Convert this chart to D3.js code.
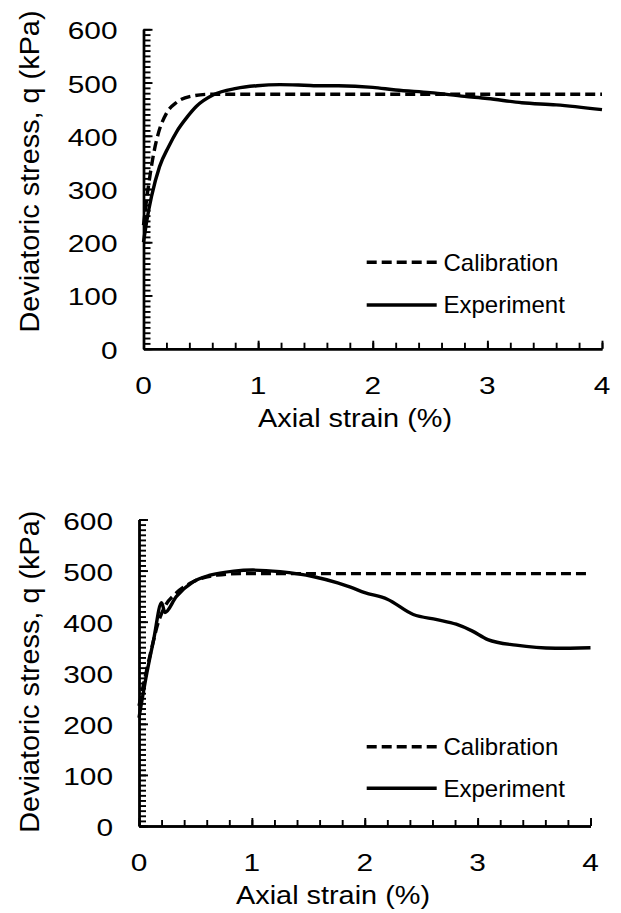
<!DOCTYPE html>
<html>
<head>
<meta charset="utf-8">
<script src="https://cdn.jsdelivr.net/npm/d3@7/dist/d3.min.js"></script>
<style>
  body { margin: 0; background: #fff; }
  text { font-family: "Liberation Sans", Arial, sans-serif; fill: #000; }
</style>
</head>
<body>
<script>
'use-strict';

// top panel, calibration curve
let topCalStrain = [0, 0.03, 0.06, 0.09, 0.13, 0.2, 0.29, 0.41, 0.58, 0.8, 1.5, 2.5, 3.5, 4];
let topCalStress = [232, 285, 330, 368, 405, 442, 463, 474, 478, 478, 478, 478, 478, 478];

// top panel, experiment curve
let topExpStrain = [0, 0.03, 0.07, 0.14, 0.22, 0.29, 0.38, 0.46, 0.61, 0.81, 0.99, 1.19, 1.4, 1.55, 1.7, 2.0, 2.2, 2.5, 2.8, 3.0, 3.3, 3.6, 4.0];
let topExpStress = [200, 242, 286, 342, 380, 408, 435, 455, 477, 489, 494, 496, 495, 494, 494, 491, 486, 481, 474, 470, 462, 458, 449];

// bottom panel, calibration curve
let botCalStrain = [0, 0.05, 0.11, 0.17, 0.23, 0.33, 0.48, 0.69, 0.9, 1.5, 2.5, 3.5, 4];
let botCalStress = [235, 287, 346, 398, 430, 456, 478, 491, 494, 494, 494, 494, 494];

// bottom panel, experiment curve
let botExpStrain = [0, 0.07, 0.13, 0.2, 0.23, 0.33, 0.48, 0.63, 0.84, 1.01, 1.25, 1.55, 1.76, 1.88, 2.0, 2.2, 2.43, 2.64, 2.81, 2.95, 3.09, 3.34, 3.69, 4.0];
let botExpStress = [212, 300, 365, 437, 418, 449, 478, 491, 499, 501, 498, 488, 476, 467, 457, 444, 414, 404, 395, 382, 365, 354, 348, 349];

// tick values and labels
let xMajorTicks = [0, 1, 2, 3, 4];
let xMinorTicks = d3.range(0, 4.001, 0.2);
let yMajorTicks = [0, 100, 200, 300, 400, 500, 600];
let yMinorTicks = d3.range(0, 601, 10);

let seriesNames = ["Calibration", "Experiment"];
let xTitle = "Axial strain (%)";
let yTitle = "Deviatoric stress, q (kPa)";

// page size
let width = 621, height = 913;

// plot boxes of the two panels
let panels = [
  { left: 143.5, right: 602, top: 29.3, bottom: 348.7, xTitleX: 355, yTitleY: 171.5, legendY: [262.3, 305],
    cal: [topCalStrain, topCalStress], exp: [topExpStrain, topExpStress] },
  { left: 139, right: 590.5, top: 519.5, bottom: 826, xTitleX: 333, yTitleY: 671.7, legendY: [746.7, 788.3],
    cal: [botCalStrain, botCalStress], exp: [botExpStrain, botExpStress] }
];

let svgContainer = d3.select("body")
  .append("svg")
  .attr("width", width)
  .attr("height", height);

panels.forEach(p => drawPanel(p));

// zip two arrays into points
function toPoints(xs, ys) {
  return xs.map((v, i) => ({ x: v, y: ys[i] }));
}

function drawPanel(p) {
  let xScale = d3.scaleLinear().domain([0, 4]).range([p.left, p.right]);
  let yScale = d3.scaleLinear().domain([0, 600]).range([p.bottom, p.top]);

  // y minor ticks (pointing inside)
  svgContainer.append("g")
    .attr("transform", "translate(" + p.left + ",0)")
    .call(d3.axisRight(yScale).tickValues(yMinorTicks).tickSize(7).tickSizeOuter(0).tickFormat(""));

  // y major ticks
  svgContainer.append("g")
    .attr("transform", "translate(" + p.left + ",0)")
    .call(d3.axisRight(yScale).tickValues(yMajorTicks).tickSize(9).tickSizeOuter(0).tickFormat(""));

  // x minor ticks (pointing up)
  svgContainer.append("g")
    .attr("transform", "translate(0," + p.bottom + ")")
    .call(d3.axisTop(xScale).tickValues(xMinorTicks).tickSize(6).tickSizeOuter(0).tickFormat(""));

  // x major ticks
  svgContainer.append("g")
    .attr("transform", "translate(0," + p.bottom + ")")
    .call(d3.axisTop(xScale).tickValues(xMajorTicks).tickSize(8).tickSizeOuter(0).tickFormat(""));

  svgContainer.selectAll(".domain").attr("stroke", "#000").attr("stroke-width", 2.4);
  svgContainer.selectAll(".tick line").attr("stroke", "#000").attr("stroke-width", 1.9);

  // y tick labels
  yMajorTicks.forEach(v => {
    svgContainer.append("text")
      .attr("transform", "translate(" + (p.left - 26) + "," + (yScale(v) + 10) + ") scale(1.27,1)")
      .attr("text-anchor", "end")
      .style("font-size", "23.5px")
      .text(v);
  });

  // x tick labels
  xMajorTicks.forEach(v => {
    svgContainer.append("text")
      .attr("transform", "translate(" + xScale(v) + "," + (p.bottom + 45) + ") scale(1.27,1)")
      .attr("text-anchor", "middle")
      .style("font-size", "23.5px")
      .text(v);
  });

  // axis titles
  svgContainer.append("text")
    .attr("x", p.xTitleX)
    .attr("y", p.bottom + 78)
    .attr("text-anchor", "middle")
    .attr("textLength", 194)
    .attr("lengthAdjust", "spacingAndGlyphs")
    .style("font-size", "25px")
    .text(xTitle);

  svgContainer.append("text")
    .attr("transform", "translate(39," + p.yTitleY + ") rotate(-90)")
    .attr("text-anchor", "middle")
    .attr("textLength", 322)
    .attr("lengthAdjust", "spacingAndGlyphs")
    .style("font-size", "27px")
    .text(yTitle);

  let line = d3.line()
    .x(d => xScale(d.x))
    .y(d => yScale(d.y))
    .curve(d3.curveMonotoneX);

  // experiment (solid)
  svgContainer.append("path")
    .datum(toPoints(p.exp[0], p.exp[1]))
    .attr("d", line)
    .attr("fill", "none")
    .attr("stroke", "#000")
    .attr("stroke-width", 3.4);

  // calibration (dashed)
  svgContainer.append("path")
    .datum(toPoints(p.cal[0], p.cal[1]))
    .attr("d", line)
    .attr("fill", "none")
    .attr("stroke", "#000")
    .attr("stroke-width", 3.4)
    .attr("stroke-dasharray", "10,5");

  // legend
  seriesNames.forEach((name, i) => {
    let ly = p.legendY[i];
    svgContainer.append("line")
      .attr("x1", 366.7).attr("x2", 436.7)
      .attr("y1", ly).attr("y2", ly)
      .attr("stroke", "#000")
      .attr("stroke-width", 3.4)
      .attr("stroke-dasharray", i == 0 ? "10,5" : null);
    svgContainer.append("text")
      .attr("x", 443.5)
      .attr("y", ly + 8.4)
      .style("font-size", "24px")
      .text(name);
  });
}
</script>
</body>
</html>
